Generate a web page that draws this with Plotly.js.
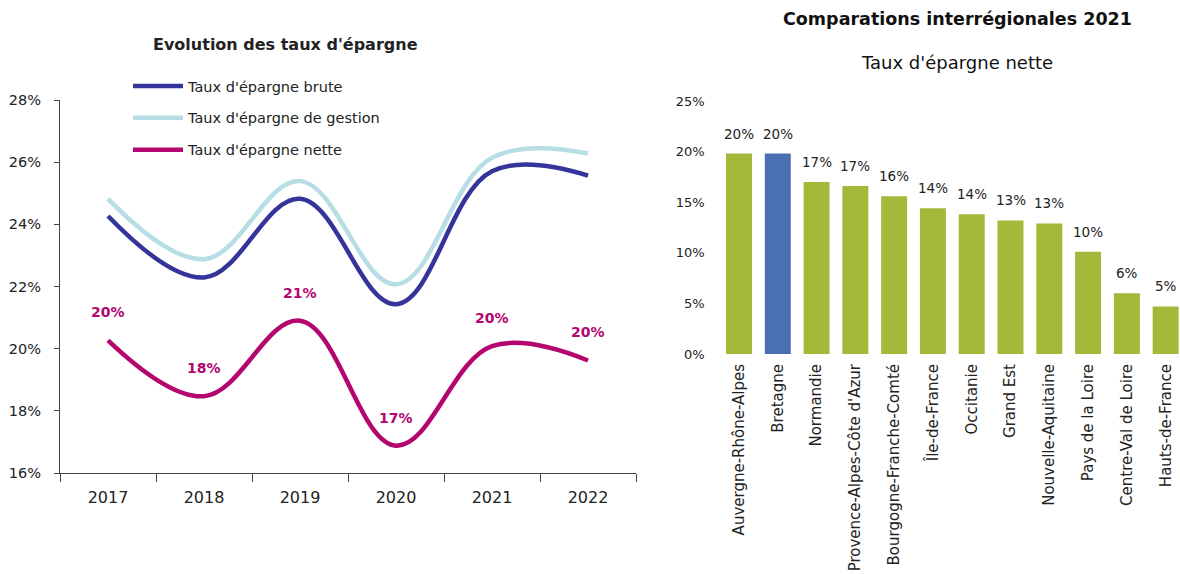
<!DOCTYPE html>
<html><head><meta charset="utf-8">
<script src="https://cdn.plot.ly/plotly-3.0.1.min.js"></script>
<style>html,body{margin:0;padding:0;background:#fff}#chart{width:1180px;height:574px}</style>
</head><body><div id="chart"></div>
<script>
// ---- Left chart data ----
const years = ['2017', '2018', '2019', '2020', '2021', '2022'];
const seriesNames = ["Taux d'épargne brute", "Taux d'épargne de gestion", "Taux d'épargne nette"];
const brute = [24.27, 22.29, 24.82, 21.43, 25.71, 25.57];
const gestion = [24.82, 22.88, 25.39, 22.07, 26.14, 26.28];
const nette = [20.27, 18.47, 20.90, 16.88, 20.08, 19.62];
const leftTicks = [16, 18, 20, 22, 24, 26, 28];

// ---- Right chart data ----
const regions = ['Auvergne-Rhône-Alpes', 'Bretagne', 'Normandie', "Provence-Alpes-Côte d'Azur",
  'Bourgogne-Franche-Comté', 'Île-de-France', 'Occitanie', 'Grand Est', 'Nouvelle-Aquitaine',
  'Pays de la Loire', 'Centre-Val de Loire', 'Hauts-de-France'];
const regionValues = [19.8, 19.8, 17.0, 16.6, 15.6, 14.4, 13.8, 13.2, 12.9, 10.1, 6.0, 4.7];
const highlightRegion = 'Bretagne';
const rightTicks = [0, 5, 10, 15, 20, 25];

const FONT = 'DejaVu Sans, sans-serif';
const cBrute = '#35349A', cGestion = '#B7DDE5', cNette = '#B3066F';
const cGreen = '#A2B93A', cBlue = '#4A70B1';

const W = 1180, H = 574;
const px = v => v / W, py = v => 1 - v / H;

const traces = [
  {x: years, y: brute, name: seriesNames[0], type: 'scatter', mode: 'lines',
   line: {color: cBrute, width: 4.5, shape: 'spline', smoothing: 1.1}, legendgroup: 'a', xaxis: 'x', yaxis: 'y'},
  {x: years, y: gestion, name: seriesNames[1], type: 'scatter', mode: 'lines',
   line: {color: cGestion, width: 4.5, shape: 'spline', smoothing: 1.1}, legendgroup: 'b', xaxis: 'x', yaxis: 'y'},
  {x: years, y: nette, name: seriesNames[2], type: 'scatter', mode: 'lines',
   line: {color: cNette, width: 4.5, shape: 'spline', smoothing: 1.1}, legendgroup: 'c', xaxis: 'x', yaxis: 'y'},
  {x: regions, y: regionValues, type: 'bar', showlegend: false, xaxis: 'x2', yaxis: 'y2',
   marker: {color: regions.map(r => r === highlightRegion ? cBlue : cGreen)}, hoverinfo: 'x+y'}
];

const annotations = years.map((yr, i) => ({
  x: i, y: nette[i], xref: 'x', yref: 'y', text: '<b>' + Math.round(nette[i]) + '%</b>',
  showarrow: false, yshift: 28, font: {family: FONT, size: 14, color: cNette}
}));
regions.forEach((r, i) => annotations.push({
  x: i, y: regionValues[i], xref: 'x2', yref: 'y2', text: Math.round(regionValues[i]) + '%',
  showarrow: false, yshift: 20, font: {family: FONT, size: 13.5, color: '#222'}
}));
annotations.push(
  {text: "<b>Evolution des taux d'épargne</b>", xref: 'paper', yref: 'paper', x: px(285), y: py(44),
   showarrow: false, xanchor: 'center', yanchor: 'middle', font: {family: FONT, size: 16, color: '#222'}},
  {text: '<b>Comparations interrégionales 2021</b>', xref: 'paper', yref: 'paper', x: px(957), y: py(19),
   showarrow: false, xanchor: 'center', yanchor: 'middle', font: {family: FONT, size: 17.5, color: '#111'}},
  {text: "Taux d'épargne nette", xref: 'paper', yref: 'paper', x: px(957), y: py(62),
   showarrow: false, xanchor: 'center', yanchor: 'middle', font: {family: FONT, size: 18, color: '#111'}}
);

const layout = {
  width: W, height: H, margin: {l: 0, r: 0, t: 0, b: 0},
  paper_bgcolor: '#fff', plot_bgcolor: 'rgba(0,0,0,0)',
  font: {family: FONT, color: '#222'},
  showlegend: true,
  legend: {x: px(128), y: py(70), xanchor: 'left', yanchor: 'top', traceorder: 'grouped',
           tracegroupgap: 10, itemwidth: 50, font: {family: FONT, size: 14.5, color: '#222'},
           bgcolor: 'rgba(0,0,0,0)'},
  xaxis: {domain: [px(60), px(636)], anchor: 'y', type: 'category', range: [-0.5, 5.5],
          tickson: 'boundaries', ticks: 'outside', ticklen: 8, tickcolor: '#444',
          showline: true, linecolor: '#444', linewidth: 1, showgrid: false, zeroline: false,
          ticklabelstandoff: 10, tickfont: {family: FONT, size: 16, color: '#222'}},
  yaxis: {domain: [1 - 473 / H, 1 - 100 / H], anchor: 'x', range: [16, 28], tickvals: leftTicks,
          ticktext: leftTicks.map(v => v + '%'), ticks: 'outside', ticklen: 5, tickcolor: '#444',
          showline: true, linecolor: '#444', linewidth: 1, showgrid: false, zeroline: false,
          ticklabelstandoff: 10, tickfont: {family: FONT, size: 14.5, color: '#222'}},
  xaxis2: {domain: [px(719.6), 1], anchor: 'y2', type: 'category', range: [-0.5, 11.37],
           tickangle: -90, ticks: '', showline: false, showgrid: false, zeroline: false,
           automargin: false, ticklabelstandoff: 6, tickfont: {family: FONT, size: 15, color: '#222'}},
  yaxis2: {domain: [1 - 354 / H, 1 - 101 / H], anchor: 'x2', range: [0, 25], tickvals: rightTicks,
           ticktext: rightTicks.map(v => v + '%'), ticks: '', showline: false, showgrid: false, zeroline: false,
           ticklabelstandoff: 14, tickfont: {family: FONT, size: 13, color: '#222'}},
  bargap: 0.33,
  annotations: annotations
};

Plotly.newPlot('chart', traces, layout, {displayModeBar: false, staticPlot: true});
</script>
</body></html>
